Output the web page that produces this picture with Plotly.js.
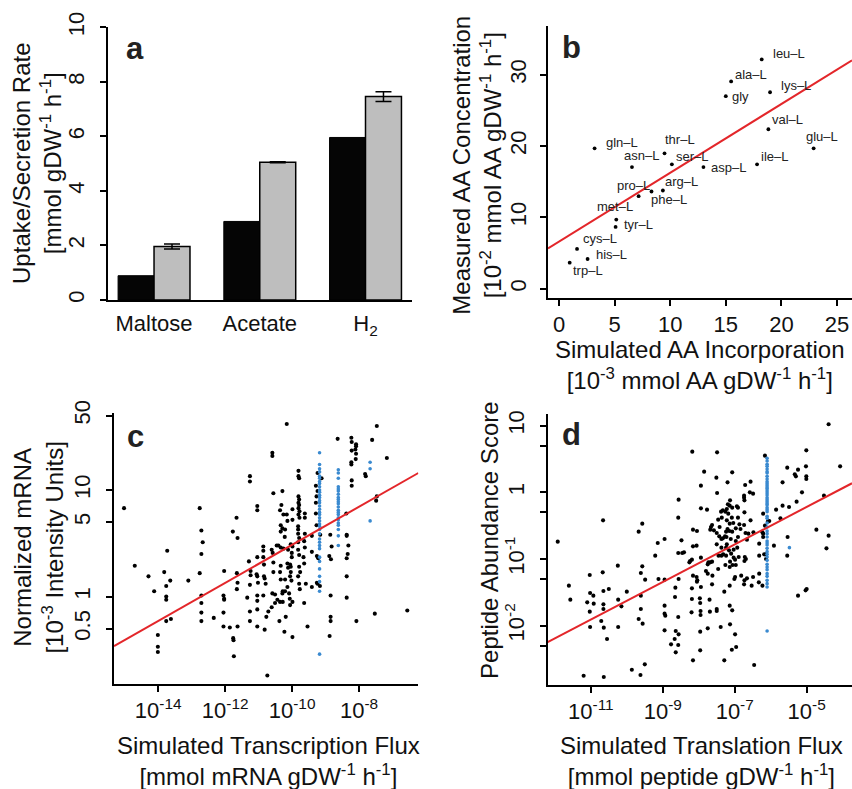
<!DOCTYPE html>
<html><head><meta charset="utf-8">
<script src="https://cdn.plot.ly/plotly-3.0.1.min.js"></script>
<style>html,body{margin:0;padding:0;background:#fff}#chart{width:852px;height:789px}</style>
</head><body><div id="chart"></div>
<script>
// ---------- Panel a: uptake / secretion rates ----------
const rateCategories = ['Maltose', 'Acetate', 'H2'];
const rateTickText = ['Maltose', 'Acetate', 'H<sub>2</sub>'];
const rateSimulated = [0.89, 2.88, 5.96];
const rateMeasured = [1.96, 5.05, 7.46];
const rateMeasuredErr = [0.09, 0.02, 0.18];

// ---------- Panel b: amino acids ----------
const aaNames = ['leu–L','ala–L','lys–L','gly','val–L','glu–L','gln–L','thr–L','asn–L','ser–L','asp–L','ile–L','pro–L','phe–L','arg–L','met–L','tyr–L','cys–L','his–L','trp–L'];
const aaSimulated = [18.23,15.48,18.98,15.0,18.83,22.9,3.2,9.49,6.56,10.15,12.99,17.81,7.16,8.32,9.34,5.15,5.09,1.62,2.57,0.96];
const aaMeasured = [32.15,29.06,27.55,27.0,22.36,19.69,19.69,18.98,17.06,17.44,17.06,17.44,12.98,13.63,13.77,9.70,8.67,5.58,4.17,3.66];
const aaFitIntercept = 6.6;
const aaFitSlope = 0.965;
// label offsets (px) from each point
const aaLabelDx = [27,20,26,15,19,8,27,15,10,21,25,17,-5,17,19,-1,23,23,24,18];
const aaLabelDy = [-6,-7,-7,0,-10,-12,-6,-14,-12,-8,0,-8,-11,8,-9,-13,-2,-10,-4,8];

// ---------- Panel c: transcription (log10 values) ----------
const cBlackLog = [
[-15.02,0.83],[-14.70,0.29],[-14.29,0.19],[-14.12,0.05],[-14.01,-0.36],[-14.01,-0.47],[-14.01,-0.52],[-13.82,0.23],[-13.73,0.43],[-13.76,0.10],[-13.64,0.15],[-13.76,0.00],[-13.76,-0.03],[-13.76,-0.23],[-13.62,-0.21],[-13.10,0.15],[-12.76,0.83],[-12.71,0.62],[-12.67,0.51],[-12.71,0.40],[-12.76,0.22],[-12.71,0.01],[-12.71,-0.06],[-12.71,-0.15],[-12.71,-0.23],[-12.34,-0.20],[-12.03,0.24],[-12.05,0.01],[-12.03,-0.02],[-12.03,-0.03],[-12.05,-0.15],[-12.05,-0.28],[-11.86,-0.29],[-11.76,-0.39],[-11.75,-0.41],[-11.74,-0.56],[-11.66,0.74],[-11.77,0.61],[-11.63,0.55],[-11.65,0.22],[-11.63,0.13],[-11.65,0.07],[-11.63,-0.28],
[-10.16,1.62],[-7.47,1.60],[-8.64,1.48],[-8.23,1.49],[-8.22,1.45],[-8.09,1.43],[-8.09,1.41],[-8.11,1.38],[-8.22,1.37],[-8.09,1.34],[-8.10,1.29],[-8.23,1.26],[-8.23,1.24],[-7.61,1.47],[-7.17,1.30],[-10.59,1.35],[-10.59,1.32],[-9.81,1.18],[-9.81,1.13],[-9.79,1.11],[-9.24,1.16],[-9.12,1.11],[-9.29,1.04],[-9.24,0.99],[-9.27,0.94],[-9.29,0.88],[-9.29,0.78],[-9.27,0.67],[-9.16,0.58],[-9.26,0.38],[-9.22,0.36],[-9.26,0.13],[-9.24,0.12],[-9.17,0.10],[-8.86,0.58],[-8.82,0.47],[-8.89,0.38],[-8.84,0.35],[-8.85,0.01],[-8.85,-0.19],[-8.85,-0.23],[-8.88,-0.37],[-8.38,0.78],[-8.37,0.58],[-8.37,0.57],[-8.32,0.48],[-8.34,0.40],[-8.37,0.36],[-8.37,0.19],[-8.37,-0.01],[-8.08,-0.23],[-7.82,1.15],[-7.80,1.13],[-8.22,1.09],[-8.22,1.04],[-7.47,0.94],[-7.49,0.90],[-7.53,-0.16],[-6.56,-0.13],[-10.74,-0.74],[-10.56,0.97],[-10.29,0.99],[-11.04,0.85],[-11.04,0.81],[-10.32,0.86],[-10.36,0.81],[-10.26,0.77],[-10.16,0.77],[-9.99,0.82],[-9.81,0.94],[-9.79,0.91],[-9.81,0.88],[-9.79,0.86],[-9.81,0.83],[-9.78,0.80],[-9.81,0.77],[-9.78,0.74],[-9.99,0.72],[-10.14,0.71],[-9.62,0.78],[-9.62,0.74],[-10.34,0.67],[-10.29,0.64],[-10.21,0.63],[-10.34,0.61],[-10.22,0.56],[-9.82,0.66],[-9.82,0.63],[-9.82,0.59],[-9.79,0.55],[-9.82,0.51],[-9.62,0.59],[-9.64,0.52],[-9.62,0.46],[-9.41,0.57],[-10.86,0.47],[-10.86,0.43],[-10.86,0.37],[-10.84,0.30],[-10.61,0.44],[-10.58,0.41],[-10.46,0.48],[-10.41,0.48],[-10.34,0.46],[-10.26,0.45],[-10.04,0.49],[-9.99,0.47],[-10.12,0.44],[-10.01,0.41],[-10.01,0.37],[-10.14,0.31],[-10.06,0.30],[-10.04,0.28],[-10.12,0.27],[-9.82,0.44],[-9.79,0.39],[-9.66,0.37],[-9.64,0.31],[-9.41,0.42],[-10.56,0.32],[-10.34,0.29],[-10.56,0.23],[-10.36,0.23],[-10.34,0.16],[-10.21,0.16],[-10.04,0.23],[-10.06,0.19],[-10.02,0.15],[-10.14,0.09],[-9.79,0.28],[-9.76,0.23],[-9.82,0.19],[-9.79,0.12],[-9.77,0.07],[-9.59,0.12],[-9.41,0.09],[-11.04,0.37],[-11.06,0.21],[-11.04,0.19],[-11.02,0.13],[-11.24,0.24],[-11.24,0.20],[-11.26,0.11],[-11.29,0.33],[-11.26,1.13],[-11.26,1.08],[-10.84,0.19],[-10.82,0.17],[-10.79,0.12],[-10.86,0.01],[-10.59,0.03],[-10.51,0.02],[-10.44,-0.03],[-10.51,-0.06],[-10.36,-0.05],[-10.28,-0.05],[-10.28,0.05],[-10.29,0.03],[-10.21,0.05],[-10.09,0.03],[-10.07,-0.02],[-9.99,-0.05],[-10.06,-0.08],[-9.64,-0.06],[-11.04,0.01],[-11.04,-0.04],[-11.04,-0.12],[-11.26,-0.14],[-11.26,-0.23],[-11.34,-0.01],[-10.61,-0.10],[-10.71,-0.14],[-10.77,-0.19],[-10.38,-0.23],[-10.19,-0.19],[-11.04,-0.28],[-10.82,-0.31],[-10.23,-0.33],[-9.99,-0.38],[-9.54,-0.28]
];
const cBlueLog = [
[-9.18,1.35],[-9.18,1.24],[-9.18,1.20],[-9.18,1.17],[-9.18,1.13],[-9.18,1.11],[-9.18,1.08],[-9.18,1.06],[-9.18,1.03],[-9.18,1.00],[-9.18,0.98],[-9.18,0.95],[-9.18,0.93],[-9.18,0.90],[-9.18,0.88],[-9.18,0.85],[-9.18,0.82],[-9.18,0.79],[-9.18,0.77],[-9.18,0.74],[-9.18,0.71],[-9.18,0.68],[-9.18,0.66],[-9.18,0.63],[-9.18,0.59],[-9.18,0.54],[-9.18,0.51],[-9.18,0.48],[-9.18,0.45],[-9.18,0.37],[-9.18,0.33],[-9.18,0.26],[-9.18,0.19],[-9.18,0.14],[-9.18,0.05],[-9.18,-0.54],
[-8.62,1.19],[-8.62,1.16],[-8.62,1.11],[-8.62,1.03],[-8.62,1.01],[-8.62,0.99],[-8.62,0.96],[-8.62,0.93],[-8.62,0.91],[-8.62,0.89],[-8.62,0.87],[-8.62,0.84],[-8.62,0.81],[-8.62,0.79],[-8.62,0.77],[-8.62,0.74],[-8.62,0.72],[-8.62,0.69],[-8.62,0.67],[-8.62,0.63],[-8.62,0.57],[-8.62,0.48],
[-7.67,1.26],[-7.67,1.20],[-7.67,0.71]
];
const cFitIntercept = 2.273; // log10(y) = a + b*log10(x)
const cFitSlope = 0.1787;

// ---------- Panel d: translation (log10 values) ----------
const dBlackLog = [
[-11.92,-0.74],[-11.61,-1.40],[-11.57,-1.61],[-11.20,-2.75],[-11.10,-1.65],[-11.03,-1.24],[-11.02,-1.51],[-10.93,-1.55],[-11.03,-1.79],[-11.02,-2.02],[-10.92,-1.67],[-10.71,-1.93],[-10.66,-0.42],[-10.67,-1.20],[-10.65,-1.48],[-10.65,-1.68],[-10.65,-1.75],[-10.64,-2.03],[-10.64,-2.77],[-10.55,-2.20],[-10.50,-1.45],[-10.25,-1.10],[-10.24,-1.61],[-10.24,-2.02],[-10.15,-1.71],[-10.00,-1.49],[-9.86,-2.66],[-9.67,-0.59],[-9.57,-0.47],[-9.57,-1.11],[-9.61,-1.21],[-9.49,-1.31],[-9.61,-1.55],[-9.61,-1.75],[-9.67,-1.90],[-9.56,-1.97],[-9.62,-2.74],[-9.50,-2.58],[-9.21,-0.95],[-9.14,-0.76],[-8.95,-0.70],[-9.12,-1.30],[-8.95,-1.31],[-8.95,-1.70],[-8.95,-1.82],[-8.93,-1.85],[-8.95,-2.07],[-8.65,-1.43],[-8.66,-1.57],[-8.64,-2.08],[-8.67,-2.20],[-8.77,-2.28],[-8.64,-2.40],[-8.56,-0.11],[-8.57,-0.38],[-8.57,-0.91],[-8.56,-1.30],[-8.57,-1.87],[-8.56,-2.13],[-8.57,-2.29],
[-4.39,1.02],[-8.18,0.61],[-7.49,0.60],[-6.16,0.55],[-5.01,0.63],[-4.07,0.39],[-5.02,0.39],[-5.54,0.37],[-5.33,0.27],[-5.30,0.24],[-5.01,0.24],[-5.01,0.20],[-5.24,0.34],[-7.85,0.31],[-7.07,0.30],[-7.51,0.22],[-7.20,0.15],[-7.94,0.10],[-6.71,0.11],[-6.56,0.16],[-5.13,0.00],[-5.67,0.15],[-7.49,-0.01],[-6.58,0.00],[-6.49,-0.02],[-6.74,-0.05],[-6.74,-0.08],[-6.73,-0.12],[-7.13,-0.12],[-7.19,-0.18],[-7.14,-0.20],[-6.94,-0.21],[-6.91,-0.23],[-7.07,-0.23],[-4.52,-0.05],[-5.28,-0.14],[-5.85,-0.26],[-5.67,-0.20],[-5.49,-0.22],[-7.94,-0.24],[-7.77,-0.26],[-7.33,-0.27],[-7.22,-0.25],[-7.26,-0.29],[-7.18,-0.32],[-7.38,-0.29],[-6.73,-0.30],[-6.21,-0.32],[-5.73,-0.39],[-6.04,-0.43],[-6.56,-0.42],[-7.08,-0.38],[-7.46,-0.41],[-7.36,-0.38],[-6.91,-0.38],[-6.87,-0.48],[-6.74,-0.49],[-7.04,-0.46],[-7.22,-0.42],[-7.14,-0.47],[-7.63,-0.49],[-7.66,-0.52],[-7.58,-0.57],[-7.68,-0.56],[-8.16,-0.56],[-8.05,-0.58],[-7.42,-0.52],[-7.20,-0.55],[-7.15,-0.58],[-7.07,-0.59],[-7.24,-0.59],[-7.50,-0.61],[-7.43,-0.66],[-7.33,-0.69],[-7.27,-0.66],[-7.23,-0.67],[-7.37,-0.70],[-7.11,-0.70],[-6.97,-0.54],[-6.84,-0.55],[-6.91,-0.67],[-6.70,-0.61],[-6.62,-0.62],[-6.66,-0.71],[-6.97,-0.73],[-7.50,-0.78],[-7.22,-0.78],[-7.24,-0.83],[-7.37,-0.83],[-7.16,-0.87],[-7.03,-0.86],[-6.93,-0.83],[-7.32,-0.93],[-7.10,-0.92],[-7.24,-0.95],[-7.03,-0.98],[-7.45,-0.95],[-7.37,-0.95],[-8.48,-0.72],[-8.16,-0.81],[-8.06,-0.80],[-8.41,-0.90],[-8.46,-0.91],[-7.94,-0.98],[-8.19,-1.01],[-8.24,-1.03],[-8.26,-1.05],[-7.73,-1.05],[-7.68,-1.05],[-7.75,-1.08],[-7.63,-1.04],[-6.99,-1.01],[-6.89,-0.97],[-6.72,-0.97],[-6.69,-1.00],[-6.73,-1.03],[-7.13,-1.04],[-7.06,-1.09],[-7.26,-1.09],[-7.14,-1.12],[-6.97,-1.09],[-7.80,-1.18],[-7.75,-1.22],[-7.46,-1.15],[-7.62,-1.25],[-8.16,-1.25],[-8.06,-1.27],[-8.04,-1.32],[-8.05,-1.34],[-7.94,-1.42],[-8.19,-1.44],[-7.63,-1.38],[-7.14,-1.40],[-7.29,-1.49],[-6.99,-1.27],[-7.01,-1.30],[-6.82,-1.25],[-6.73,-1.32],[-6.66,-1.29],[-6.74,-1.38],[-6.53,-1.40],[-6.49,-1.27],[-6.32,-1.22],[-6.33,-1.35],[-6.23,-1.40],[-6.48,-0.60],[-6.32,-0.95],[-6.18,-0.93],[-6.13,-0.93],[-6.13,-1.00],[-6.21,-0.67],[-6.21,-0.62],[-6.16,-0.50],[-6.08,-0.44],[-6.32,-0.77],[-6.23,-0.60],[-5.91,-0.80],[-5.53,-0.67],[-5.54,-0.95],[-4.45,-0.84],[-4.39,-0.65],[-4.73,-0.56],[-5.00,-1.45],[-5.03,-1.47],[-5.24,-1.55],[-8.19,-1.60],[-8.20,-1.80],[-7.97,-1.59],[-7.96,-1.66],[-7.95,-1.78],[-7.95,-1.84],[-7.70,-1.61],[-7.69,-1.79],[-7.50,-1.75],[-7.50,-1.78],[-7.07,-1.77],[-7.14,-1.70],[-7.13,-1.98],[-7.39,-2.02],[-7.75,-2.04],[-7.96,-2.09],[-6.99,-2.13],[-6.96,-2.32],[-7.08,-2.36],[-7.96,-2.37],[-8.16,-2.52],[-7.29,-2.52],[-6.46,-2.59]
];
const dBlueLog = [
[-6.10,0.51],[-6.10,0.47],[-6.10,0.42],[-6.10,0.39],[-6.10,0.35],[-6.10,0.31],[-6.10,0.29],[-6.10,0.24],[-6.10,0.20],[-6.10,0.16],[-6.10,0.13],[-6.10,0.10],[-6.10,0.07],[-6.10,0.05],[-6.10,0.02],[-6.10,-0.01],[-6.10,-0.04],[-6.10,-0.08],[-6.10,-0.11],[-6.10,-0.14],[-6.10,-0.17],[-6.10,-0.19],[-6.10,-0.23],[-6.10,-0.26],[-6.10,-0.29],[-6.10,-0.36],[-6.10,-0.39],[-6.10,-0.46],[-6.10,-0.52],[-6.10,-0.58],[-6.10,-0.62],[-6.10,-0.67],[-6.10,-0.73],[-6.10,-0.76],[-6.10,-0.79],[-6.10,-0.84],[-6.10,-0.89],[-6.10,-0.93],[-6.10,-0.97],[-6.10,-1.02],[-6.10,-1.08],[-6.10,-1.12],[-6.10,-1.16],[-6.10,-1.22],[-6.10,-1.26],[-6.10,-1.32],[-6.10,-1.37],[-6.10,-1.42],[-6.10,-2.08],[-5.48,-0.83]
];
const dFitIntercept = 1.190;
const dFitSlope = 0.2818;

// ---------- drawing ----------
const FONT = 'Liberation Sans, Arial, Helvetica, sans-serif';
const pow10 = v => Math.pow(10, v);
const RANGE_B_X = [-0.99, 26.35], RANGE_B_Y = [-1.3, 36.83];
const RANGE_C_X = [-15.32, -6.23], RANGE_C_Y = [-0.82, 1.72];
const RANGE_D_X = [-12.2, -3.74], RANGE_D_Y = [-2.89, 1.175];
const red = '#e3262a', blue = '#3a8ad0';

const traces = [
  {type:'bar', x: rateCategories, y: rateSimulated, xaxis:'x', yaxis:'y',
   marker:{color:'#050505', line:{color:'#000', width:1}}, offsetgroup:'1', hoverinfo:'skip'},
  {type:'bar', x: rateCategories, y: rateMeasured, xaxis:'x', yaxis:'y',
   marker:{color:'#bebebe', line:{color:'#000', width:1.5}}, offsetgroup:'2',
   error_y:{type:'data', array: rateMeasuredErr, visible:true, color:'#000', thickness:1.5, width:8}, hoverinfo:'skip'},
  {type:'scatter', mode:'markers', x: aaSimulated, y: aaMeasured, xaxis:'x2', yaxis:'y2',
   marker:{color:'#000', size:3.8}, hoverinfo:'skip'},
  {type:'scatter', mode:'lines', x: RANGE_B_X, y: RANGE_B_X.map(v => aaFitIntercept + aaFitSlope*v),
   xaxis:'x2', yaxis:'y2', line:{color:red, width:2}, hoverinfo:'skip'},
  {type:'scatter', mode:'markers', x: cBlackLog.map(p=>pow10(p[0])), y: cBlackLog.map(p=>pow10(p[1])),
   xaxis:'x3', yaxis:'y3', marker:{color:'#000', size:4.1}, hoverinfo:'skip'},
  {type:'scatter', mode:'markers', x: cBlueLog.map(p=>pow10(p[0])), y: cBlueLog.map(p=>pow10(p[1])),
   xaxis:'x3', yaxis:'y3', marker:{color:blue, size:3.6}, hoverinfo:'skip'},
  {type:'scatter', mode:'lines', x: RANGE_C_X.map(pow10), y: RANGE_C_X.map(v => pow10(cFitIntercept + cFitSlope*v)),
   xaxis:'x3', yaxis:'y3', line:{color:red, width:2}, hoverinfo:'skip'},
  {type:'scatter', mode:'markers', x: dBlackLog.map(p=>pow10(p[0])), y: dBlackLog.map(p=>pow10(p[1])),
   xaxis:'x4', yaxis:'y4', marker:{color:'#000', size:4.1}, hoverinfo:'skip'},
  {type:'scatter', mode:'markers', x: dBlueLog.map(p=>pow10(p[0])), y: dBlueLog.map(p=>pow10(p[1])),
   xaxis:'x4', yaxis:'y4', marker:{color:blue, size:3.6}, hoverinfo:'skip'},
  {type:'scatter', mode:'lines', x: RANGE_D_X.map(pow10), y: RANGE_D_X.map(v => pow10(dFitIntercept + dFitSlope*v)),
   xaxis:'x4', yaxis:'y4', line:{color:red, width:2}, hoverinfo:'skip'}
];

const axBase = {showline:true, linecolor:'#000', linewidth:2, ticks:'outside', ticklen:6, tickwidth:2,
  tickcolor:'#000', showgrid:false, zeroline:false, fixedrange:true,
  tickfont:{family:FONT, size:22, color:'#111'}};
const ax = o => Object.assign({}, axBase, o);

const annotations = [];
const addTitle = (x, y, text, angle) => annotations.push({xref:'paper', yref:'paper', x, y, text,
  showarrow:false, textangle: angle||0, xanchor:'center', yanchor:'middle',
  font:{family:FONT, size:24, color:'#111'}});
addTitle(0.0440, 0.7928, 'Uptake/Secretion Rate<br>[mmol gDW<sup>-1</sup> h<sup>-1</sup>]', -90);
addTitle(0.5595, 0.7909, 'Measured AA Concentration<br>[10<sup>-2</sup> mmol AA gDW<sup>-1</sup> h<sup>-1</sup>]', -90);
addTitle(0.8216, 0.5374, 'Simulated AA Incorporation<br>[10<sup>-3</sup> mmol AA gDW<sup>-1</sup> h<sup>-1</sup>]', 0);
addTitle(0.0452, 0.3054, 'Normalized mRNA<br>[10<sup>-3</sup> Intensity Units]', -90);
addTitle(0.3154, 0.0361, 'Simulated Transcription Flux<br>[mmol mRNA gDW<sup>-1</sup> h<sup>-1</sup>]', 0);
addTitle(0.5751, 0.3156, 'Peptide Abundance Score', -90);
addTitle(0.8228, 0.0355, 'Simulated Translation Flux<br>[mmol peptide gDW<sup>-1</sup> h<sup>-1</sup>]', 0);

const letters = [['a',0.1585,0.9379],['b',0.6710,0.9404],['c',0.1585,0.4465],['d',0.6710,0.4487]];
letters.forEach(l => annotations.push({xref:'paper', yref:'paper', x:l[1], y:l[2], text:'<b>'+l[0]+'</b>',
  showarrow:false, xanchor:'center', yanchor:'middle', font:{family:FONT, size:31, color:'#222'}}));

aaNames.forEach((n, i) => annotations.push({xref:'x2', yref:'y2', x: aaSimulated[i], y: aaMeasured[i],
  text:n, showarrow:false, xanchor:'center', yanchor:'middle', xshift: aaLabelDx[i], yshift: -aaLabelDy[i],
  font:{family:FONT, size:13, color:'#222'}}));

const layout = {
  width:852, height:789, margin:{l:0, r:0, t:0, b:0}, paper_bgcolor:'#fff', plot_bgcolor:'rgba(0,0,0,0)',
  showlegend:false, barmode:'group', bargap:0.32, bargroupgap:0,
  xaxis: ax({domain:[0.1268,0.4836], anchor:'y', type:'category', range:[-0.435,2.44], ticks:'',
    tickvals: rateCategories, ticktext: rateTickText, ticklabelstandoff:3}),
  yaxis: ax({domain:[0.6198,0.9654], anchor:'x', range:[0,10], tickvals:[0,2,4,6,8,10], tickangle:-90, ticklabelstandoff:7}),
  xaxis2: ax({domain:[0.6432,1.0], anchor:'y2', range:RANGE_B_X, tickvals:[0,5,10,15,20,25]}),
  yaxis2: ax({domain:[0.6223,0.9670], anchor:'x2', range:RANGE_B_Y, tickvals:[0,10,20,30], tickangle:-90, ticklabelstandoff:5}),
  xaxis3: ax({domain:[0.1338,0.4910], anchor:'y3', type:'log', range:RANGE_C_X,
    tickvals:[1e-14,1e-12,1e-10,1e-8], ticktext:['10<sup>-14</sup>','10<sup>-12</sup>','10<sup>-10</sup>','10<sup>-8</sup>']}),
  yaxis3: ax({domain:[0.1331,0.4762], anchor:'x3', type:'log', range:RANGE_C_Y,
    tickvals:[0.5,1,5,10,50], ticktext:['0.5','1','5','10','50'], tickangle:-90, ticklabelstandoff:7}),
  xaxis4: ax({domain:[0.6428,1.0], anchor:'y4', type:'log', range:RANGE_D_X,
    tickvals:[1e-11,1e-9,1e-7,1e-5], ticktext:['10<sup>-11</sup>','10<sup>-9</sup>','10<sup>-7</sup>','10<sup>-5</sup>']}),
  yaxis4: ax({domain:[0.1318,0.4753], anchor:'x4', type:'log', range:RANGE_D_Y,
    tickvals:[0.01,0.1,1,10], ticktext:['10<sup>-2</sup>','10<sup>-1</sup>','1','10'], tickangle:-90, ticklabelstandoff:7,
    minor:{tickmode:'array', tickvals:[0.005,0.05,0.5,5], ticks:'outside', ticklen:6, tickwidth:2, tickcolor:'#000', showgrid:false}}),
  annotations
};

Plotly.newPlot('chart', traces, layout, {staticPlot:true, displayModeBar:false});
</script>
</body></html>
